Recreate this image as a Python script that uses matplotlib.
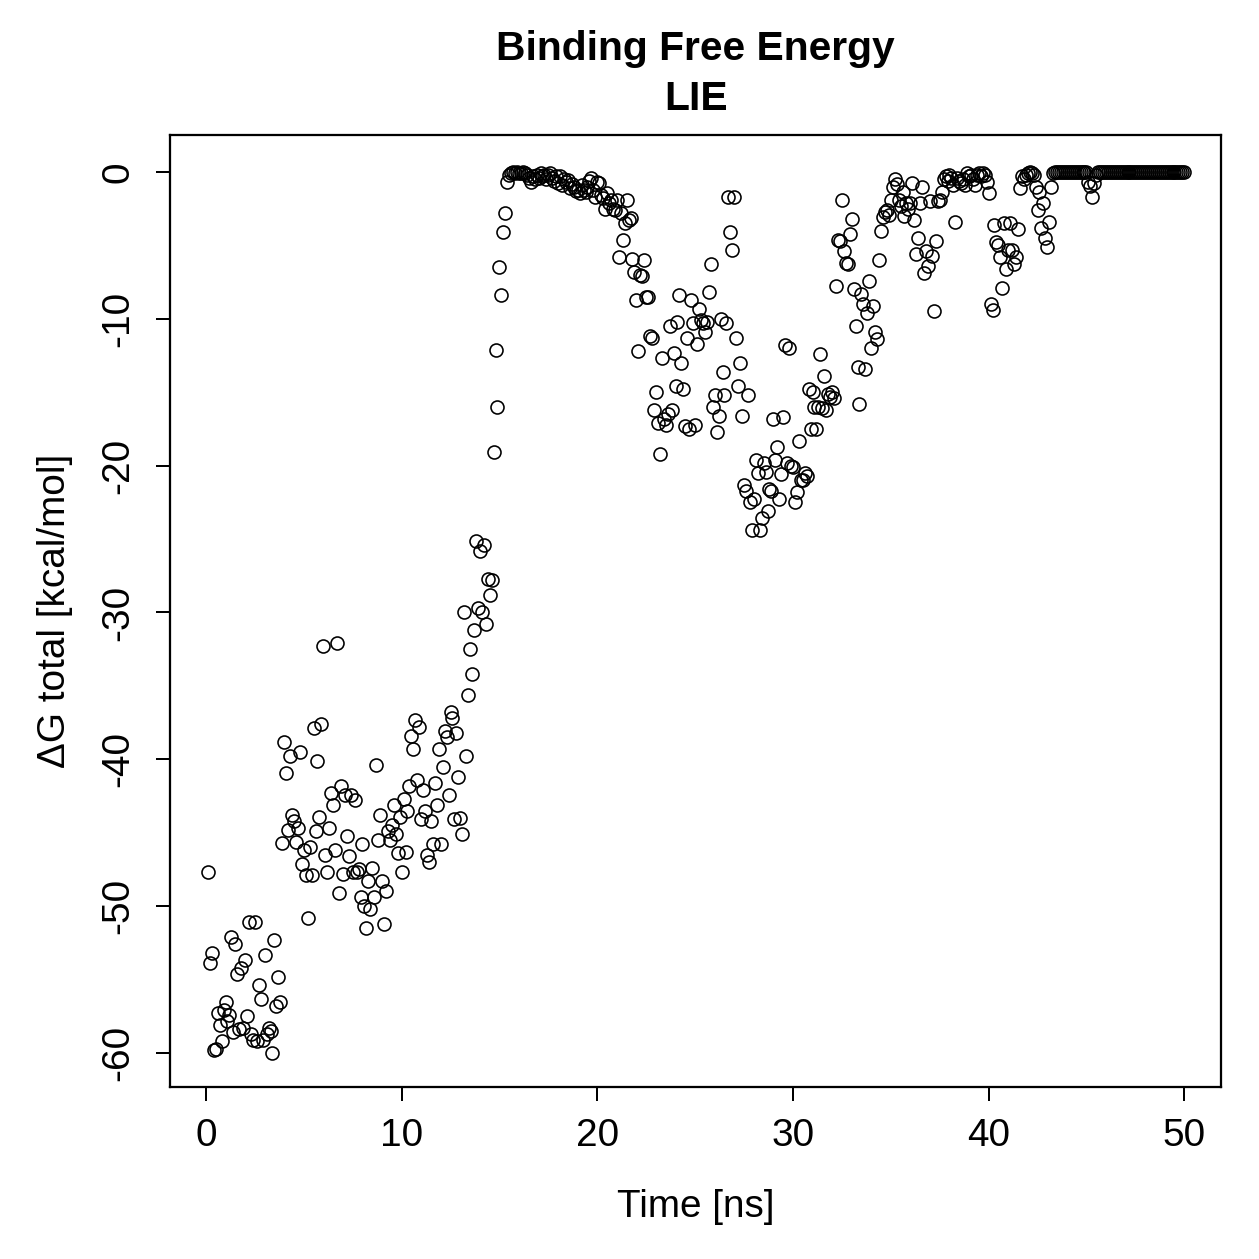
import numpy as np
import matplotlib
matplotlib.use("Agg")
import matplotlib.pyplot as plt

plt.rcParams['font.family'] = ['Liberation Sans', 'DejaVu Sans']
plt.rcParams['axes.unicode_minus'] = False

# Delta G total [kcal/mol], one value every 0.1 ns (0.1 .. 50.0)
dg_00_09 = [
    [-47.7, -53.9, -53.2, -59.8, -59.7, -57.3, -58.1, -59.2, -57.1, -56.5],
    [-57.8, -57.4, -52.1, -58.6, -52.6, -54.6, -58.4, -54.2, -58.3, -53.7],
    [-57.5, -51.1, -58.7, -59.1, -51.1, -59.2, -55.4, -56.3, -59.1, -53.3],
    [-58.7, -58.3, -58.5, -60.0, -52.3, -56.8, -54.8, -56.5, -45.7, -38.8],
    [-40.9, -44.8, -39.8, -43.8, -44.2, -45.6, -44.7, -39.5, -47.1, -46.2],
    [-47.9, -50.8, -46.0, -47.9, -37.9, -44.9, -40.1, -43.9, -37.6, -32.3],
    [-46.5, -47.7, -44.7, -42.3, -43.1, -46.2, -32.1, -49.1, -41.8, -47.8],
    [-42.4, -45.2, -46.6, -42.4, -47.7, -42.8, -47.7, -47.5, -49.4, -45.8],
    [-50.0, -51.5, -48.3, -50.2, -47.4, -49.4, -40.4, -45.5, -43.8, -48.3],
    [-51.2, -49.0, -44.9, -45.5, -44.5, -43.1, -45.1, -46.4, -43.9, -47.7],
]
dg_10_19 = [
    [-42.7, -46.3, -43.5, -41.8, -38.4, -39.3, -37.3, -41.4, -37.8, -44.1],
    [-42.1, -43.5, -46.5, -47.0, -44.2, -45.8, -41.6, -43.1, -39.3, -45.8],
    [-40.5, -38.1, -38.5, -42.4, -36.8, -37.2, -44.1, -38.2, -41.2, -44.0],
    [-45.1, -30.0, -39.8, -35.6, -32.5, -34.2, -31.2, -25.1, -29.7, -25.8],
    [-30.0, -25.4, -30.8, -27.7, -28.8, -27.8, -19.1, -12.1, -16.0, -6.5],
    [-8.4, -4.1, -2.8, -0.66, -0.2, -0.05, 0.0, -0.1, 0.0, -0.05],
    [-0.05, 0.0, -0.1, -0.2, -0.4, -0.66, -0.3, -0.5, -0.2, -0.4],
    [-0.1, -0.3, -0.2, -0.5, -0.2, -0.1, -0.4, -0.6, -0.3, -0.77],
    [-0.3, -0.9, -0.5, -0.7, -0.55, -1.1, -0.8, -1.0, -1.3, -1.2],
    [-1.45, -0.9, -1.2, -1.34, -1.0, -0.6, -0.43, -1.2, -1.7, -0.66],
]
dg_20_29 = [
    [-0.77, -1.6, -1.8, -2.5, -1.45, -2.1, -1.9, -2.5, -2.6, -1.9],
    [-5.8, -2.8, -4.6, -3.45, -1.9, -3.3, -3.15, -5.9, -6.8, -8.7],
    [-12.2, -7.0, -7.1, -6.0, -8.5, -8.5, -11.2, -11.3, -16.2, -15.0],
    [-17.1, -19.2, -12.7, -16.8, -17.2, -16.5, -10.5, -16.2, -12.3, -14.6],
    [-10.2, -8.4, -13.0, -14.8, -17.3, -11.3, -17.5, -8.7, -10.3, -17.2],
    [-11.7, -9.3, -10.1, -10.3, -10.9, -10.2, -8.2, -6.3, -16.0, -15.2],
    [-17.7, -16.6, -10.0, -13.6, -15.2, -10.3, -1.7, -4.1, -5.3, -1.7],
    [-11.3, -14.6, -13.0, -16.6, -21.3, -21.7, -15.2, -22.5, -24.4, -22.3],
    [-19.6, -20.5, -24.4, -23.6, -19.8, -20.4, -23.1, -21.6, -21.7, -16.8],
    [-19.6, -18.75, -22.3, -20.6, -16.7, -11.8, -19.8, -12.0, -20.0, -20.1],
]
dg_30_39 = [
    [-22.5, -21.8, -18.3, -21.0, -20.97, -20.5, -20.7, -14.8, -17.5, -15.0],
    [-16.0, -17.5, -16.0, -12.4, -16.1, -13.9, -16.2, -15.1, -15.3, -15.0],
    [-15.4, -7.8, -4.6, -4.7, -1.9, -5.4, -6.2, -6.3, -4.2, -3.2],
    [-8.0, -10.5, -13.3, -15.8, -8.3, -9.0, -13.4, -9.6, -7.4, -12.0],
    [-9.1, -10.9, -11.4, -6.0, -4.0, -3.1, -2.7, -2.6, -2.9, -1.9],
    [-1.0, -0.5, -0.8, -1.9, -2.3, -1.34, -3.0, -2.1, -2.5, -2.1],
    [-0.77, -3.3, -5.6, -4.5, -2.1, -1.0, -6.9, -5.4, -6.4, -2.0],
    [-5.7, -9.5, -4.7, -2.0, -1.9, -1.34, -0.5, -0.3, -0.6, -0.2],
    [-0.4, -0.9, -3.4, -0.43, -0.6, -0.77, -0.5, -0.9, -0.1, -0.3],
    [-0.2, -0.5, -0.9, -0.2, -0.1, -0.3, -0.1, -0.2, -0.66, -1.4],
]
dg_40_49 = [
    [-9.0, -9.4, -3.6, -4.8, -5.0, -5.8, -7.9, -3.45, -6.6, -5.3],
    [-3.45, -5.3, -6.3, -5.8, -3.9, -1.1, -0.3, -0.5, -0.2, -0.1],
    [0.0, -0.1, -0.2, -1.0, -2.6, -1.34, -3.85, -2.1, -4.5, -5.1],
    [-3.4, -1.0, -0.1, 0.0, 0.0, 0.0, 0.0, 0.0, 0.0, 0.0],
    [0.0, 0.0, 0.0, 0.0, 0.0, 0.0, 0.0, 0.0, 0.0, 0.0],
    [-0.66, -0.95, -1.7, -0.77, -0.2, 0.0, 0.0, 0.0, 0.0, 0.0],
    [0.0, 0.0, 0.0, 0.0, 0.0, 0.0, 0.0, 0.0, 0.0, 0.0],
    [0.0, 0.0, 0.0, 0.0, 0.0, 0.0, 0.0, 0.0, 0.0, 0.0],
    [0.0, 0.0, 0.0, 0.0, 0.0, 0.0, 0.0, 0.0, 0.0, 0.0],
    [0.0, 0.0, 0.0, 0.0, 0.0, 0.0, 0.0, 0.0, 0.0, 0.0],
]

dg = np.concatenate([np.ravel(b) for b in (dg_00_09, dg_10_19, dg_20_29, dg_30_39, dg_40_49)])
time_ns = np.round(np.arange(1, len(dg) + 1) * 0.1, 1)

x_ticks = [0, 10, 20, 30, 40, 50]
y_ticks = [0, -10, -20, -30, -40, -50, -60]

fig = plt.figure(figsize=(1259 / 180, 1259 / 180), dpi=180)
ax = fig.add_axes([0.135, 0.1366, 0.835, 0.7562])

ax.plot(time_ns, dg, linestyle='none', marker='o', markersize=5.2,
        markerfacecolor='none', markeredgecolor='black', markeredgewidth=0.65)

ax.set_xlim(-1.84, 51.89)
ax.set_ylim(-62.32, 2.52)
ax.set_xticks(x_ticks)
ax.set_yticks(y_ticks)
ax.set_yticklabels([str(v) for v in y_ticks], rotation=90, va='center')
ax.tick_params(direction='out', length=5.5, width=0.8, labelsize=15.5)
ax.tick_params(axis='x', pad=7)
ax.tick_params(axis='y', pad=8)
for s in ax.spines.values():
    s.set_linewidth(0.9)

ax.set_xlabel('Time [ns]', fontsize=15.5, labelpad=14)
ax.set_ylabel('\u0394G total [kcal/mol]', fontsize=15.5, labelpad=11)
ax.set_title('Binding Free Energy\nLIE', fontsize=16.3, fontweight='bold', pad=10,
             linespacing=1.4)

fig.savefig('out.png', dpi=180)
